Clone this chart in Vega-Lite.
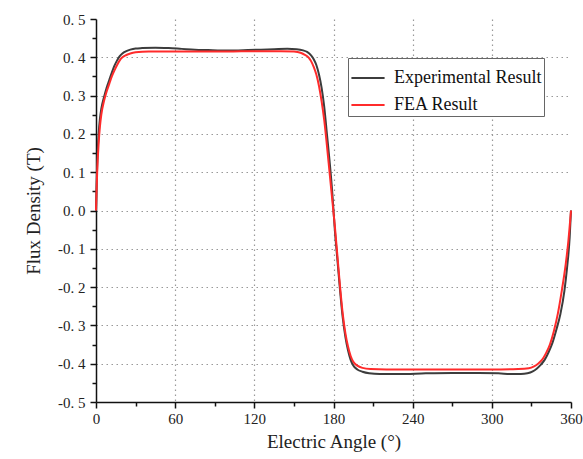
{
  "$schema": "https://vega.github.io/schema/vega-lite/v6.json",
  "width": 475,
  "height": 383,
  "autosize": {"type": "none"},
  "padding": {"left": 96, "top": 19, "right": 12, "bottom": 57},
  "background": "white",
  "config": {"view": {"stroke": null}, "font": "Liberation Serif", "axis": {"labelFont": "Liberation Serif", "titleFont": "Liberation Serif"}, "legend": {"labelFont": "Liberation Serif"}},
  "data": {"values": [
      {"s": "Experimental Result", "a": 0, "b": 0.0}, {"s": "Experimental Result", "a": 0.5, "b": 0.07}, {"s": "Experimental Result", "a": 1, "b": 0.13}, {"s": "Experimental Result", "a": 2, "b": 0.2}, {"s": "Experimental Result", "a": 3, "b": 0.24}, {"s": "Experimental Result", "a": 4, "b": 0.265},
      {"s": "Experimental Result", "a": 6, "b": 0.295}, {"s": "Experimental Result", "a": 8, "b": 0.32}, {"s": "Experimental Result", "a": 10, "b": 0.34}, {"s": "Experimental Result", "a": 12, "b": 0.36}, {"s": "Experimental Result", "a": 14, "b": 0.378}, {"s": "Experimental Result", "a": 16, "b": 0.392},
      {"s": "Experimental Result", "a": 18, "b": 0.403}, {"s": "Experimental Result", "a": 20, "b": 0.41}, {"s": "Experimental Result", "a": 23, "b": 0.416}, {"s": "Experimental Result", "a": 26, "b": 0.42}, {"s": "Experimental Result", "a": 30, "b": 0.423}, {"s": "Experimental Result", "a": 35, "b": 0.424},
      {"s": "Experimental Result", "a": 45, "b": 0.425}, {"s": "Experimental Result", "a": 55, "b": 0.424}, {"s": "Experimental Result", "a": 65, "b": 0.422}, {"s": "Experimental Result", "a": 75, "b": 0.42}, {"s": "Experimental Result", "a": 85, "b": 0.419}, {"s": "Experimental Result", "a": 95, "b": 0.418},
      {"s": "Experimental Result", "a": 105, "b": 0.418}, {"s": "Experimental Result", "a": 115, "b": 0.419}, {"s": "Experimental Result", "a": 125, "b": 0.42}, {"s": "Experimental Result", "a": 135, "b": 0.421}, {"s": "Experimental Result", "a": 145, "b": 0.422}, {"s": "Experimental Result", "a": 152, "b": 0.421},
      {"s": "Experimental Result", "a": 157, "b": 0.418}, {"s": "Experimental Result", "a": 160, "b": 0.414}, {"s": "Experimental Result", "a": 163, "b": 0.405}, {"s": "Experimental Result", "a": 165, "b": 0.395}, {"s": "Experimental Result", "a": 167, "b": 0.38}, {"s": "Experimental Result", "a": 169, "b": 0.355},
      {"s": "Experimental Result", "a": 171, "b": 0.32}, {"s": "Experimental Result", "a": 173, "b": 0.27}, {"s": "Experimental Result", "a": 175, "b": 0.2}, {"s": "Experimental Result", "a": 177, "b": 0.13}, {"s": "Experimental Result", "a": 179, "b": 0.05}, {"s": "Experimental Result", "a": 180, "b": 0.0},
      {"s": "Experimental Result", "a": 181, "b": -0.05}, {"s": "Experimental Result", "a": 183, "b": -0.13}, {"s": "Experimental Result", "a": 185, "b": -0.21}, {"s": "Experimental Result", "a": 187, "b": -0.28}, {"s": "Experimental Result", "a": 189, "b": -0.33}, {"s": "Experimental Result", "a": 191, "b": -0.365},
      {"s": "Experimental Result", "a": 193, "b": -0.39}, {"s": "Experimental Result", "a": 195, "b": -0.405}, {"s": "Experimental Result", "a": 198, "b": -0.415}, {"s": "Experimental Result", "a": 202, "b": -0.421}, {"s": "Experimental Result", "a": 207, "b": -0.425}, {"s": "Experimental Result", "a": 215, "b": -0.427},
      {"s": "Experimental Result", "a": 230, "b": -0.427}, {"s": "Experimental Result", "a": 250, "b": -0.425}, {"s": "Experimental Result", "a": 270, "b": -0.424}, {"s": "Experimental Result", "a": 290, "b": -0.424}, {"s": "Experimental Result", "a": 305, "b": -0.425}, {"s": "Experimental Result", "a": 315, "b": -0.427},
      {"s": "Experimental Result", "a": 322, "b": -0.427}, {"s": "Experimental Result", "a": 327, "b": -0.425}, {"s": "Experimental Result", "a": 331, "b": -0.42}, {"s": "Experimental Result", "a": 334, "b": -0.413}, {"s": "Experimental Result", "a": 337, "b": -0.403}, {"s": "Experimental Result", "a": 340, "b": -0.39},
      {"s": "Experimental Result", "a": 343, "b": -0.37}, {"s": "Experimental Result", "a": 346, "b": -0.345}, {"s": "Experimental Result", "a": 349, "b": -0.31}, {"s": "Experimental Result", "a": 352, "b": -0.27}, {"s": "Experimental Result", "a": 355, "b": -0.21}, {"s": "Experimental Result", "a": 357, "b": -0.15},
      {"s": "Experimental Result", "a": 359, "b": -0.07}, {"s": "Experimental Result", "a": 360, "b": 0.0},
      {"s": "FEA Result", "a": 0, "b": 0.0}, {"s": "FEA Result", "a": 0.5, "b": 0.06}, {"s": "FEA Result", "a": 1, "b": 0.11}, {"s": "FEA Result", "a": 2, "b": 0.175}, {"s": "FEA Result", "a": 3, "b": 0.22}, {"s": "FEA Result", "a": 4, "b": 0.25},
      {"s": "FEA Result", "a": 6, "b": 0.285}, {"s": "FEA Result", "a": 8, "b": 0.31}, {"s": "FEA Result", "a": 10, "b": 0.33}, {"s": "FEA Result", "a": 12, "b": 0.35}, {"s": "FEA Result", "a": 14, "b": 0.366}, {"s": "FEA Result", "a": 16, "b": 0.38},
      {"s": "FEA Result", "a": 18, "b": 0.392}, {"s": "FEA Result", "a": 20, "b": 0.4}, {"s": "FEA Result", "a": 23, "b": 0.406}, {"s": "FEA Result", "a": 26, "b": 0.41}, {"s": "FEA Result", "a": 30, "b": 0.413}, {"s": "FEA Result", "a": 40, "b": 0.415},
      {"s": "FEA Result", "a": 60, "b": 0.415}, {"s": "FEA Result", "a": 80, "b": 0.415}, {"s": "FEA Result", "a": 100, "b": 0.415}, {"s": "FEA Result", "a": 120, "b": 0.416}, {"s": "FEA Result", "a": 140, "b": 0.416}, {"s": "FEA Result", "a": 150, "b": 0.415},
      {"s": "FEA Result", "a": 155, "b": 0.412}, {"s": "FEA Result", "a": 158, "b": 0.407}, {"s": "FEA Result", "a": 161, "b": 0.4}, {"s": "FEA Result", "a": 163, "b": 0.39}, {"s": "FEA Result", "a": 165, "b": 0.375}, {"s": "FEA Result", "a": 167, "b": 0.355},
      {"s": "FEA Result", "a": 169, "b": 0.325}, {"s": "FEA Result", "a": 171, "b": 0.285}, {"s": "FEA Result", "a": 173, "b": 0.235}, {"s": "FEA Result", "a": 175, "b": 0.17}, {"s": "FEA Result", "a": 177, "b": 0.1}, {"s": "FEA Result", "a": 179, "b": 0.03},
      {"s": "FEA Result", "a": 180, "b": -0.005}, {"s": "FEA Result", "a": 181, "b": -0.04}, {"s": "FEA Result", "a": 183, "b": -0.12}, {"s": "FEA Result", "a": 185, "b": -0.2}, {"s": "FEA Result", "a": 187, "b": -0.27}, {"s": "FEA Result", "a": 189, "b": -0.32},
      {"s": "FEA Result", "a": 191, "b": -0.355}, {"s": "FEA Result", "a": 193, "b": -0.38}, {"s": "FEA Result", "a": 195, "b": -0.395}, {"s": "FEA Result", "a": 198, "b": -0.405}, {"s": "FEA Result", "a": 202, "b": -0.411}, {"s": "FEA Result", "a": 208, "b": -0.414},
      {"s": "FEA Result", "a": 220, "b": -0.415}, {"s": "FEA Result", "a": 240, "b": -0.415}, {"s": "FEA Result", "a": 260, "b": -0.415}, {"s": "FEA Result", "a": 280, "b": -0.415}, {"s": "FEA Result", "a": 300, "b": -0.415}, {"s": "FEA Result", "a": 320, "b": -0.414},
      {"s": "FEA Result", "a": 328, "b": -0.412}, {"s": "FEA Result", "a": 332, "b": -0.407}, {"s": "FEA Result", "a": 335, "b": -0.4}, {"s": "FEA Result", "a": 338, "b": -0.39}, {"s": "FEA Result", "a": 341, "b": -0.373}, {"s": "FEA Result", "a": 344, "b": -0.35},
      {"s": "FEA Result", "a": 347, "b": -0.315}, {"s": "FEA Result", "a": 350, "b": -0.27}, {"s": "FEA Result", "a": 353, "b": -0.21}, {"s": "FEA Result", "a": 356, "b": -0.14}, {"s": "FEA Result", "a": 358, "b": -0.08}, {"s": "FEA Result", "a": 360, "b": 0.0}
  ]},
  "mark": {"type": "line", "strokeWidth": 2, "interpolate": "monotone"},
  "encoding": {
    "x": {
      "field": "a", "type": "quantitative",
      "scale": {"domain": [0, 360], "nice": false},
      "axis": {
        "title": "Electric Angle (°)",
        "titleFontSize": 19, "titleFontWeight": "normal", "titleColor": "#222", "titlePadding": 6,
        "values": [0, 30, 60, 90, 120, 150, 180, 210, 240, 270, 300, 330, 360],
        "labelExpr": "datum.value % 60 == 0 ? datum.label : ''",
        "labelOverlap": false,
        "labelFontSize": 15, "labelColor": "#222", "labelPadding": 3, "labelFlush": false,
        "domainColor": "#111", "domainWidth": 1.5,
        "tickColor": "#111", "tickWidth": 1.5,
        "tickSize": {"condition": {"test": "datum.value % 60 == 0", "value": 6}, "value": 4},
        "grid": true, "gridColor": "#999", "gridDash": [1.5, 3.5], "gridWidth": 1.2,
        "gridOpacity": {"condition": {"test": "datum.value % 60 == 0 && datum.value > 0 && datum.value < 360", "value": 1}, "value": 0}
      }
    },
    "y": {
      "field": "b", "type": "quantitative",
      "scale": {"domain": [-0.5, 0.5], "nice": false},
      "axis": {
        "title": "Flux Density (T)",
        "titleFontSize": 19, "titleFontWeight": "normal", "titleColor": "#222", "titlePadding": 14,
        "values": [-0.5, -0.45, -0.4, -0.35, -0.3, -0.25, -0.2, -0.15, -0.1, -0.05, 0, 0.05, 0.1, 0.15, 0.2, 0.25, 0.3, 0.35, 0.4, 0.45, 0.5],
        "labelExpr": "abs(datum.value*10 - round(datum.value*10)) < 0.001 ? replace(replace(format(datum.value, '.1f'), '\u2212', '-'), '.', '. ') : ''",
        "labelOverlap": false,
        "labelFontSize": 15, "labelColor": "#222", "labelPadding": 5,
        "domainColor": "#111", "domainWidth": 1.5,
        "tickColor": "#111", "tickWidth": 1.5,
        "tickSize": {"condition": {"test": "abs(datum.value*10 - round(datum.value*10)) < 0.001", "value": 6}, "value": 4},
        "grid": true, "gridColor": "#999", "gridDash": [1.5, 3.5], "gridWidth": 1.2,
        "gridOpacity": {"condition": {"test": "abs(datum.value*10 - round(datum.value*10)) < 0.001 && datum.value > -0.45 && datum.value < 0.45", "value": 1}, "value": 0}
      }
    },
    "color": {
      "field": "s", "type": "nominal",
      "scale": {"domain": ["Experimental Result", "FEA Result"], "range": ["#3c3c3c", "#ff2b2b"]},
      "legend": {
        "title": null, "orient": "none", "legendX": 252, "legendY": 39,
        "symbolType": "stroke", "symbolSize": 1100, "symbolStrokeWidth": 2,
        "labelFontSize": 18, "labelColor": "#111", "labelLimit": 300, "labelOffset": 8,
        "strokeColor": "#666", "fillColor": "white", "padding": 2, "rowPadding": -10
      }
    }
  }
}
